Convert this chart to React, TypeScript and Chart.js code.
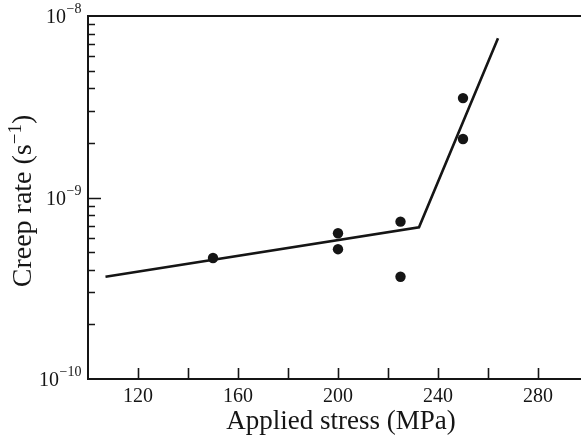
import { useEffect, useRef } from 'react';
import { Chart, registerables } from 'chart.js';

Chart.register(...registerables);

// Measured data (applied stress in MPa, creep rate in 1/s)
const stressValues = [150, 200, 200, 225, 225, 250, 250];
const creepValues = [4.64e-10, 6.35e-10, 5.19e-10, 7.36e-10, 3.66e-10, 3.53e-9, 2.1e-9];

// Fitted two-segment line
const fitStress = [107, 232.4, 264];
const fitCreep = [3.66e-10, 6.86e-10, 7.54e-9];

// Axis ticks
const xTickValues = [120, 140, 160, 180, 200, 220, 240, 260, 280];
const xTickLabels = ['120', '', '160', '', '200', '', '240', '', '280'];
const yMajorValues = [1e-10, 1e-9, 1e-8];
const yMajorExponents = ['\u221210', '\u22129', '\u22128'];
const yMinorMultipliers = [2, 3, 4, 5, 6, 7, 8, 9];

const xTitle = 'Applied stress (MPa)';
const yTitleMain = 'Creep rate (s';
const yTitleSup = '\u22121';
const yTitleEnd = ')';

const INK = '#151515';
const FONT = '"Liberation Serif", "Times New Roman", serif';

const axesPlugin = {
  id: 'paperAxes',
  afterDraw(chart: any) {
    const { ctx, chartArea } = chart;
    const xs = chart.scales.x;
    const ys = chart.scales.y;
    const L = chartArea.left;
    const R = chartArea.right;
    const T = chartArea.top;
    const B = chartArea.bottom;
    ctx.save();
    ctx.strokeStyle = INK;
    ctx.fillStyle = INK;
    ctx.lineWidth = 2;
    ctx.lineCap = 'butt';
    // frame: left, bottom, top
    ctx.beginPath();
    ctx.moveTo(L, T);
    ctx.lineTo(R, T);
    ctx.moveTo(L, T - 1);
    ctx.lineTo(L, B + 1);
    ctx.moveTo(L, B);
    ctx.lineTo(R, B);
    ctx.stroke();

    // x ticks (inward)
    ctx.lineWidth = 1.6;
    ctx.beginPath();
    xTickValues.forEach((v) => {
      const px = Math.round(xs.getPixelForValue(v)) + 0.5;
      ctx.moveTo(px, B);
      ctx.lineTo(px, B - 11);
    });
    // y minor ticks (inward)
    [1e-10, 1e-9].forEach((dec) => {
      yMinorMultipliers.forEach((m) => {
        const py = Math.round(ys.getPixelForValue(dec * m)) + 0.5;
        ctx.moveTo(L, py);
        ctx.lineTo(L + 7, py);
      });
    });
    const p9 = Math.round(ys.getPixelForValue(1e-9)) + 0.5;
    ctx.moveTo(L, p9);
    ctx.lineTo(L + 13, p9);
    ctx.stroke();

    // x tick labels
    ctx.font = `20px ${FONT}`;
    ctx.textAlign = 'center';
    ctx.textBaseline = 'alphabetic';
    xTickValues.forEach((v, i) => {
      if (!xTickLabels[i]) return;
      ctx.fillText(xTickLabels[i], xs.getPixelForValue(v), B + 23);
    });

    // y tick labels 10^n
    ctx.textAlign = 'left';
    yMajorValues.forEach((v, i) => {
      const py = ys.getPixelForValue(v);
      ctx.font = `14px ${FONT}`;
      const supW = ctx.measureText(yMajorExponents[i]).width;
      ctx.font = `20px ${FONT}`;
      const baseW = ctx.measureText('10').width;
      const right = L - 7;
      const x0 = right - supW - baseW;
      ctx.fillText('10', x0, py + 7);
      ctx.font = `14px ${FONT}`;
      ctx.fillText(yMajorExponents[i], x0 + baseW + 0.5, py - 3);
    });

    // x title
    ctx.font = `27px ${FONT}`;
    ctx.textAlign = 'center';
    ctx.fillText(xTitle, 341, 429);

    // y title (rotated)
    ctx.save();
    ctx.translate(31, 201);
    ctx.rotate(-Math.PI / 2);
    ctx.textAlign = 'left';
    ctx.font = `28px ${FONT}`;
    const w1 = ctx.measureText(yTitleMain).width;
    const w3 = ctx.measureText(yTitleEnd).width;
    ctx.font = `19px ${FONT}`;
    const w2 = ctx.measureText(yTitleSup).width;
    const total = w1 + w2 + w3;
    let cx = -total / 2;
    ctx.font = `28px ${FONT}`;
    ctx.fillText(yTitleMain, cx, 0);
    cx += w1;
    ctx.font = `19px ${FONT}`;
    ctx.fillText(yTitleSup, cx, -10);
    cx += w2;
    ctx.font = `28px ${FONT}`;
    ctx.fillText(yTitleEnd, cx, 0);
    ctx.restore();

    ctx.restore();
  },
};

export default function App() {
  const ref = useRef<HTMLCanvasElement>(null);
  useEffect(() => {
    const canvas = ref.current;
    if (!canvas) return;
    const chart = new Chart(canvas, {
      type: 'scatter',
      data: {
        datasets: [
          {
            label: 'Measured',
            data: stressValues.map((x, i) => ({ x, y: creepValues[i] })),
            pointRadius: 5.2,
            pointBackgroundColor: INK,
            pointBorderColor: INK,
            pointBorderWidth: 0,
            showLine: false,
          },
          {
            label: 'Fit',
            data: fitStress.map((x, i) => ({ x, y: fitCreep[i] })),
            showLine: true,
            pointRadius: 0,
            borderColor: INK,
            borderWidth: 2.6,
            fill: false,
            tension: 0,
          },
        ],
      },
      options: {
        animation: false,
        responsive: false,
        maintainAspectRatio: false,
        layout: { autoPadding: false, padding: { top: 16, left: 0, right: 0, bottom: 0 } },
        plugins: {
          legend: { display: false },
          tooltip: { enabled: false },
          title: { display: false },
        },
        scales: {
          x: {
            type: 'linear',
            min: 100,
            max: 297.2,
            grid: { display: false },
            border: { display: false },
            ticks: { display: false },
            afterFit: (s: any) => {
              s.height = 63;
            },
          },
          y: {
            type: 'logarithmic',
            min: 1e-10,
            max: 1e-8,
            grid: { display: false },
            border: { display: false },
            ticks: { display: false },
            afterFit: (s: any) => {
              s.width = 88;
            },
          },
        },
      },
      plugins: [axesPlugin],
    });
    return () => chart.destroy();
  }, []);
  return (
    <div style={{ position: 'fixed', left: 0, top: 0, width: 581, height: 442, background: '#fff' }}>
      <canvas ref={ref} width={581} height={442} style={{ display: 'block', width: 581, height: 442 }} />
    </div>
  );
}
